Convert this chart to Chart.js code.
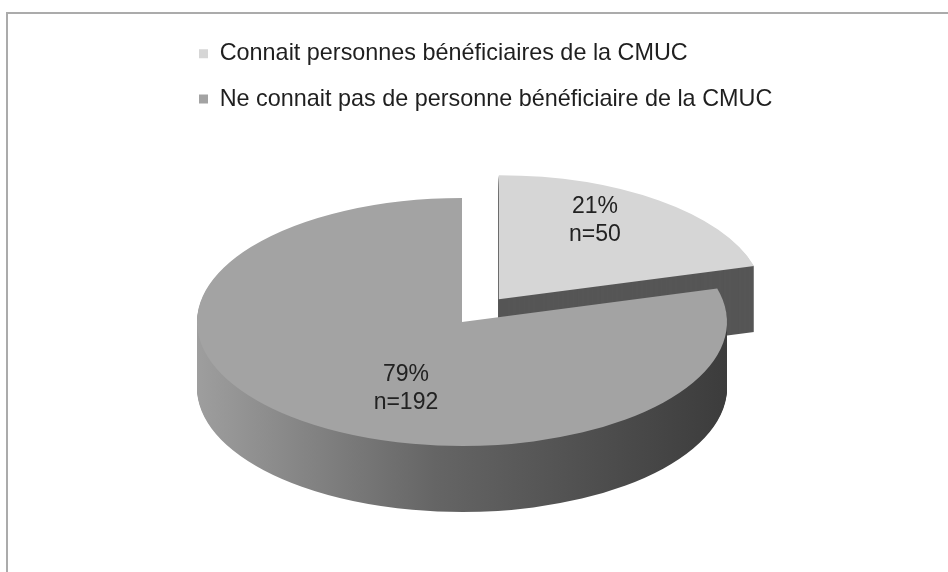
<!DOCTYPE html>
<html>
<head>
<meta charset="utf-8">
<script src="https://cdn.jsdelivr.net/npm/chart.js@4.4.1/dist/chart.umd.min.js"></script>
<style>
body { margin: 0; background: #fff; }
#wrap { position: relative; width: 948px; height: 572px; overflow: hidden; }
#frame { position: absolute; left: 6px; top: 12px; width: 980px; height: 600px;
         border-top: 2px solid #ababab; border-left: 2px solid #ababab; }
#chart { position: absolute; left: 0; top: 0; }
</style>
</head>
<body>
<div id="wrap"><div id="frame"></div><canvas id="chart" width="948" height="572"></canvas></div>
<script>
var labels = ['Connait personnes bénéficiaires de la CMUC', 'Ne connait pas de personne bénéficiaire de la CMUC'];
var counts = [50, 192];
var percents = ['21%', '79%'];

var topColors = ['#d6d6d6', '#a3a3a3'];

// where the squashed pie lands on the page
var PIE_X = 462, PIE_Y = 322, PIE_RX = 265, PIE_RY = 124, PIE_DEPTH = 66;
var RADIUS = 200;          // radius chart.js lays out before squashing
var explode = [46, 0];     // pull-out of each slice, chart px
var labelFrac = [0.6, 0.35];
var labelNudge = [[0, -19], [0, 32]];

Chart.defaults.font.family = "'Liberation Sans', Arial, sans-serif";

function screenPt(el, px, py) {
    return {
        x: PIE_X + (px - el.x) * PIE_RX / el.outerRadius,
        y: PIE_Y + (py - el.y) * PIE_RY / el.outerRadius
    };
}

function copyWithFill(el, fill) {
    var c = Object.create(el);
    c.options = Object.assign({}, el.options, {backgroundColor: fill, borderColor: fill, borderWidth: 0});
    return c;
}

var pie3d = {
    id: 'pie3d',
    beforeDatasetsDraw: function(chart) {
        var ctx = chart.ctx;
        var arcs = chart.getDatasetMeta(0).data;
        var el0 = arcs[0];
        var sx = PIE_RX / el0.outerRadius, sy = PIE_RY / el0.outerRadius;

        ctx.save();
        ctx.translate(PIE_X, PIE_Y);
        ctx.scale(sx, sy);
        ctx.translate(-el0.x, -el0.y);

        var grad = ctx.createLinearGradient(el0.x - el0.outerRadius, 0, el0.x + el0.outerRadius, 0);
        grad.addColorStop(0, '#9e9e9e');
        grad.addColorStop(0.45, '#656565');
        grad.addColorStop(1, '#3c3c3c');
        var sideFill = ['#565656', grad];

        // sides first (stacked copies pushed down), then the tops
        arcs.forEach(function(el, i) {
            var mid = (el.startAngle + el.endAngle) / 2;
            var side = copyWithFill(el, sideFill[i]);
            for (var d = PIE_DEPTH; d > 0; d--) {
                ctx.save();
                ctx.translate(Math.cos(mid) * explode[i], Math.sin(mid) * explode[i] + d / sy);
                side.draw(ctx);
                ctx.restore();
            }
        });
        arcs.forEach(function(el, i) {
            var mid = (el.startAngle + el.endAngle) / 2;
            ctx.save();
            ctx.translate(Math.cos(mid) * explode[i], Math.sin(mid) * explode[i]);
            el.draw(ctx);
            ctx.restore();
        });
        ctx.restore();

        // data labels
        ctx.save();
        ctx.fillStyle = '#222';
        ctx.font = "23px 'Liberation Sans', Arial, sans-serif";
        ctx.textAlign = 'center';
        ctx.textBaseline = 'middle';
        arcs.forEach(function(el, i) {
            var mid = (el.startAngle + el.endAngle) / 2;
            var r = explode[i] + labelFrac[i] * el.outerRadius;
            var p = screenPt(el0, el.x + Math.cos(mid) * r, el.y + Math.sin(mid) * r);
            var x = p.x + labelNudge[i][0], y = p.y + labelNudge[i][1];
            ctx.fillText(percents[i], x, y - 14);
            ctx.fillText('n=' + counts[i], x, y + 14);
        });
        ctx.restore();
        return false;
    }
};

var ctx = document.getElementById('chart').getContext('2d');
var myChart = new Chart(ctx, {
    type: 'pie',
    data: {
        labels: labels,
        datasets: [{
            data: counts,
            backgroundColor: topColors,
            borderWidth: 0,
            radius: RADIUS
        }]
    },
    options: {
        responsive: false,
        animation: false,
        events: [],
        layout: { padding: { left: 177, top: 20, right: 0, bottom: 0 } },
        plugins: {
            legend: {
                position: 'top',
                align: 'start',
                labels: {
                    boxWidth: 9,
                    boxHeight: 9,
                    padding: 22,
                    color: '#1f1f1f',
                    font: { size: 23.4 }
                }
            },
            tooltip: { enabled: false }
        }
    },
    plugins: [pie3d]
});
</script>
</body>
</html>
